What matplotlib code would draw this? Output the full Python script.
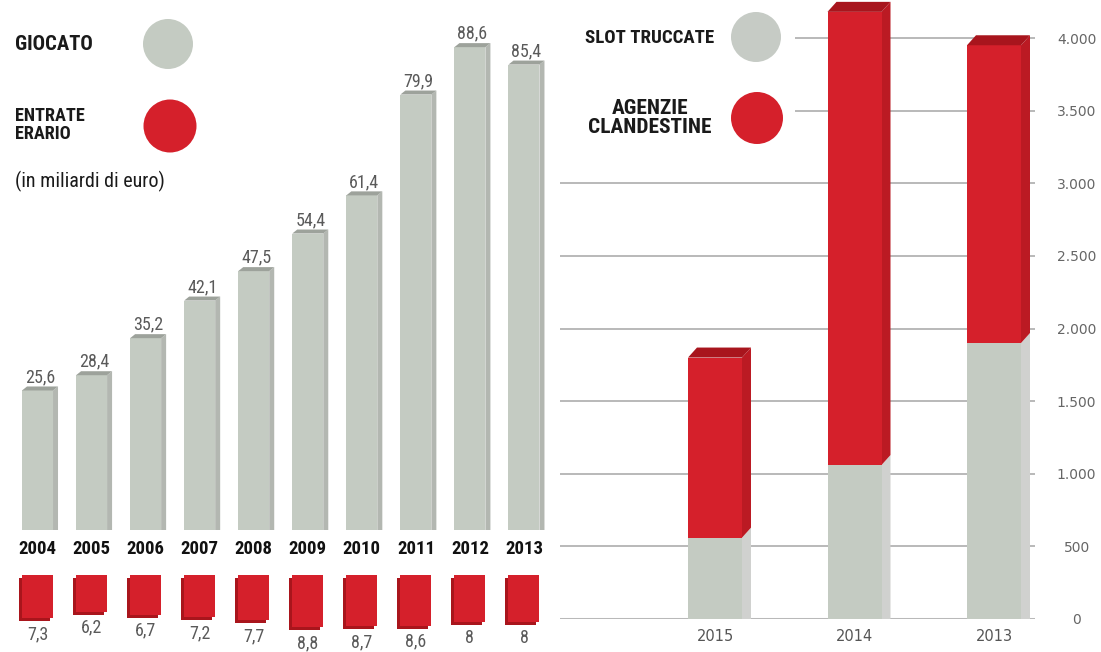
import numpy as np
import matplotlib
matplotlib.use("Agg")
import matplotlib.pyplot as plt
from matplotlib import font_manager as fm
from matplotlib.patches import Polygon, Ellipse, Rectangle
from matplotlib.ticker import FuncFormatter

# ---------------- data ----------------
years_left = ["2004", "2005", "2006", "2007", "2008", "2009", "2010", "2011", "2012", "2013"]
giocato = [25.6, 28.4, 35.2, 42.1, 47.5, 54.4, 61.4, 79.9, 88.6, 85.4]
erario = [7.3, 6.2, 6.7, 7.2, 7.7, 8.8, 8.7, 8.6, 8, 8]

years_right = ["2015", "2014", "2013"]
slot_truccate = [560, 1060, 1900]
agenzie_clandestine = [1240, 3120, 2050]
yticks_right = [0, 500, 1000, 1500, 2000, 2500, 3000, 3500, 4000]

# ---------------- style ----------------
W, H = 1101, 652
GRAY = "#c4cbc2"
GRAY_SIDE = "#b3b7b1"
GRAY_CAP = "#9da29b"
GRAY_SIDE_R = "#d0d1cf"
RED = "#d5202b"
RED_SIDE = "#bb1a23"
RED_TOP = "#a8151d"
RED_SHADOW = "#a9151c"
NUM = "#5a5a5a"

ttf = fm.fontManager.ttflist
names = {f.name for f in ttf}
COND = None
for fam in ["Roboto Condensed", "Liberation Sans Narrow", "Open Sans Condensed", "Noto Sans Condensed"]:
    if fam in names:
        COND = dict(family=fam)
        break
if COND is None:
    for fam in ["Noto Sans", "Open Sans", "DejaVu Sans", "Roboto", "Inter", "Lato"]:
        if any(f.name == fam and f.stretch in ("condensed", "semi-condensed", "extra-condensed") for f in ttf):
            COND = dict(family=fam, stretch="condensed")
            break
IS_COND = COND is not None
if COND is None:
    COND = dict(family="DejaVu Sans")

fig = plt.figure(figsize=(W / 100, H / 100), dpi=100)
fig.patch.set_facecolor("white")
rend = fig.canvas.get_renderer()


def rect(x0, y0, x1, y1):
    return [x0 / W, 1 - y1 / H, (x1 - x0) / W, (y1 - y0) / H]


def fmt(v):
    return f"{v:g}".replace(".", ",")


NUM_FONT = dict(COND, fontsize=13) if IS_COND else dict(family="DejaVu Sans", fontsize=11)
YEAR_FONT = dict(COND, fontsize=13.5) if IS_COND else dict(family="DejaVu Sans", fontsize=11)

# ---------------- left: giocato ----------------
sxL, syL = 54.06, 5.45
axL = fig.add_axes(rect(10.5, 0, 551, 530))
x = np.arange(len(years_left))
axL.set_xlim(-0.5, len(years_left) - 0.5)
axL.set_ylim(0, 530 / syL)
bw = 31 / sxL
dx, dy = 5 / sxL, 4 / syL
for xi, v in zip(x, giocato):
    axL.add_patch(Polygon([(xi + bw / 2, 0), (xi + bw / 2 + dx, 0), (xi + bw / 2 + dx, v + dy), (xi + bw / 2, v)],
                          closed=True, color=GRAY_SIDE, zorder=1.9, lw=0))
    axL.add_patch(Polygon([(xi - bw / 2, v), (xi - bw / 2 + dx, v + dy), (xi + bw / 2 + dx, v + dy), (xi + bw / 2, v)],
                          closed=True, color=GRAY_CAP, zorder=2.1, lw=0, clip_on=False))
    axL.annotate(fmt(v), (xi + dx / 2, v), xytext=(0, 8.5), textcoords="offset pixels",
                 ha="center", va="baseline", color=NUM, annotation_clip=False, **NUM_FONT)
axL.bar(x, giocato, bw, color=GRAY, zorder=2, lw=0)
axL.set_xticks(x, years_left, fontweight="bold", color="#111111", **YEAR_FONT)
axL.tick_params(axis="x", length=0, pad=7.5)
axL.set_yticks([])
for s in axL.spines.values():
    s.set_visible(False)

# ---------------- left: entrate erario (cubes) ----------------
syC = 5.9
axC = fig.add_axes(rect(10.5, 575, 551, 652))
axC.set_xlim(-0.5, len(years_left) - 0.5)
axC.set_ylim(77 / syC, 0)
sdx, sdy = -3 / sxL, 3 / syC
axC.bar(x + sdx, erario, bw, bottom=sdy, color=RED_SHADOW, zorder=1, lw=0)
axC.bar(x, erario, bw, color=RED, zorder=2, lw=0)
for xi, v in zip(x, erario):
    axC.text(xi, v + sdy + 4 / syC, fmt(v), ha="center", va="top", color=NUM, clip_on=False, **NUM_FONT)
axC.axis("off")

# ---------------- right: stacked bars ----------------
sxR, syR = 139.5, 0.14525
axR = fig.add_axes(rect(560, 0, 1035, 619))
xr = np.arange(len(years_right))
axR.set_xlim(-155 / sxR, 320 / sxR)
axR.set_ylim(0, 619 / syR)
for t in yticks_right:
    axR.axhline(t, color="#b9b9b9", lw=2.2 if t == 0 else 1.4, zorder=0.5)
axR.add_patch(Rectangle((-2, 3300), 2 + 80 / sxR, 2000, color="white", zorder=0.8, lw=0))

bwR = 54 / sxR
dxR, dyR = 9 / sxR, 10 / syR
for xi, s, a in zip(xr, slot_truccate, agenzie_clandestine):
    tot = s + a
    r = xi + bwR / 2
    l = xi - bwR / 2
    axR.add_patch(Polygon([(r, 0), (r + dxR, 0), (r + dxR, s + dyR), (r, s)],
                          closed=True, color=GRAY_SIDE_R, zorder=2.9, lw=0))
    axR.add_patch(Polygon([(r, s), (r + dxR, s + dyR), (r + dxR, tot + dyR), (r, tot)],
                          closed=True, color=RED_SIDE, zorder=2.9, lw=0, clip_on=False))
    axR.add_patch(Polygon([(l, tot), (l + dxR, tot + dyR), (r + dxR, tot + dyR), (r, tot)],
                          closed=True, color=RED_TOP, zorder=3.1, lw=0, clip_on=False))
axR.bar(xr, slot_truccate, bwR, color=GRAY, zorder=3, lw=0)
axR.bar(xr, agenzie_clandestine, bwR, bottom=slot_truccate, color=RED, zorder=3, lw=0)

axR.yaxis.tick_right()
axR.set_yticks(yticks_right)
axR.yaxis.set_major_formatter(FuncFormatter(lambda v, p: f"{int(v):,}".replace(",", ".")))
axR.tick_params(axis="y", length=0, pad=30, labelsize=10, labelcolor="#666666")
for lbl in axR.get_yticklabels():
    lbl.set_horizontalalignment("center")
axR.set_xticks(xr, years_right)
axR.tick_params(axis="x", length=0, pad=7, labelsize=10.5, labelcolor="#555555")
for s in axR.spines.values():
    s.set_visible(False)

# ---------------- legends ----------------
def ftext(px_x, px_y, s, target_w, ha="left", **kw):
    t = fig.text(px_x / W, 1 - px_y / H, s, ha=ha, va="center", color="#1a1a1a", **COND, **kw)
    bb = t.get_window_extent(rend)
    t.set_fontsize(t.get_fontsize() * target_w / bb.width)
    return t


ftext(15, 45, "GIOCATO", 78, fontweight="bold", fontsize=14)
ftext(15, 125, "ENTRATE\nERARIO", 70, fontweight="bold", fontsize=14, linespacing=1.05)
ftext(15, 181, "(in miliardi di euro)", 150, fontsize=11)
ftext(714, 38, "SLOT TRUCCATE", 130, ha="right", fontweight="bold", fontsize=14)
ftext(650, 118, "AGENZIE\nCLANDESTINE", 124, ha="center", fontweight="bold", fontsize=14,
      linespacing=1.05, multialignment="center")

fig.add_artist(Ellipse((168 / W, 1 - 44 / H), 50 / W, 50 / H, transform=fig.transFigure, color=GRAY, lw=0))
fig.add_artist(Ellipse((170 / W, 1 - 126 / H), 53 / W, 53 / H, transform=fig.transFigure, color=RED, lw=0))
fig.add_artist(Ellipse((756 / W, 1 - 37 / H), 50 / W, 50 / H, transform=fig.transFigure, color="#c6cbc5", lw=0))
fig.add_artist(Ellipse((757 / W, 1 - 118 / H), 52 / W, 52 / H, transform=fig.transFigure, color=RED, lw=0))

fig.savefig("out.png", dpi=100, facecolor="white")
